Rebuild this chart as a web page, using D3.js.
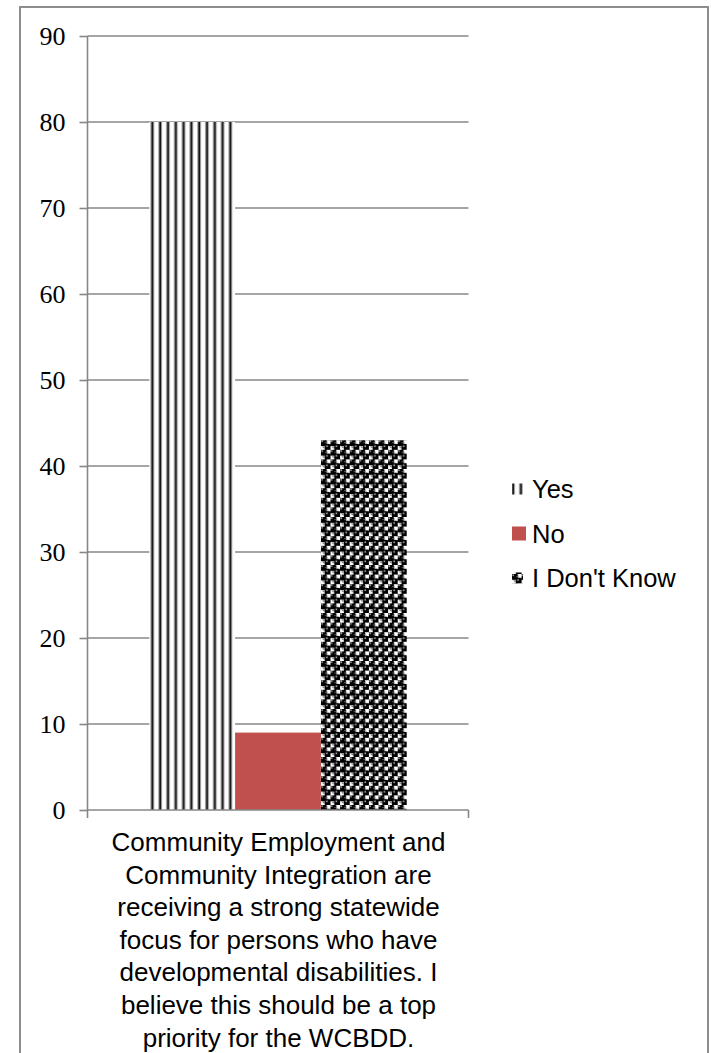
<!DOCTYPE html>
<html>
<head>
<meta charset="utf-8">
<script src="https://cdn.jsdelivr.net/npm/d3@7"></script>
<style>
  html, body { margin: 0; padding: 0; background: #fff; }
  svg { display: block; }
</style>
</head>
<body>
<svg id="chart" width="711" height="1053"></svg>
<script>
// Survey responses for one statement
const categories = ["Community Employment and Community Integration are receiving a strong statewide focus for persons who have developmental disabilities. I believe this should be a top priority for the WCBDD."];
const categoryLines = [
  "Community Employment and",
  "Community Integration are",
  "receiving a strong statewide",
  "focus for persons who have",
  "developmental disabilities. I",
  "believe this should be a top",
  "priority for the WCBDD."
];
const seriesNames = ["Yes", "No", "I Don't Know"];
const seriesValues = [80, 9, 43];
const yTicks = [0, 10, 20, 30, 40, 50, 60, 70, 80, 90];

const svg = d3.select("#chart");
const W = 711, H = 1053;
const plot = { left: 87.5, right: 468.5, top: 36, bottom: 810 };
const gridColor = "#878787";

// Outer chart frame
svg.append("rect")
  .attr("x", 20).attr("y", 7)
  .attr("width", 688).attr("height", H)
  .attr("fill", "none").attr("stroke", "#8d8d8d").attr("stroke-width", 2);

const y = d3.scaleLinear().domain([0, 90]).range([plot.bottom, plot.top]);
const x0 = d3.scaleBand().domain(categories).range([plot.left, plot.right])
  .paddingInner(0).paddingOuter(0.24);
const x1 = d3.scaleBand().domain(seriesNames).range([0, x0.bandwidth()]).padding(0);

// Fill patterns
const defs = svg.append("defs");

function stripePattern(id, offsetX) {
  const p = defs.append("pattern")
    .attr("id", id).attr("patternUnits", "userSpaceOnUse")
    .attr("x", offsetX).attr("y", 0)
    .attr("width", 7.8).attr("height", 10);
  p.append("rect").attr("width", 7.8).attr("height", 10).attr("fill", "#fff");
  p.append("rect").attr("x", 1.2).attr("width", 1.0).attr("height", 10).attr("fill", "#9a9a9a");
  p.append("rect").attr("x", 2.2).attr("width", 2.0).attr("height", 10).attr("fill", "#111");
  p.append("rect").attr("x", 4.2).attr("width", 0.8).attr("height", 10).attr("fill", "#8a8a8a");
}

function spherePattern(id, offsetX, offsetY) {
  const s = 9.6;
  const p = defs.append("pattern")
    .attr("id", id).attr("patternUnits", "userSpaceOnUse")
    .attr("x", offsetX).attr("y", offsetY)
    .attr("width", s).attr("height", s);
  p.append("rect").attr("width", s).attr("height", s).attr("fill", "#fff");
  [[s * 0.25, s * 0.25], [s * 0.75, s * 0.75]].forEach(([cx, cy]) => {
    p.append("circle").attr("cx", cx).attr("cy", cy).attr("r", 3.7).attr("fill", "#000");
    p.append("circle").attr("cx", cx - 1.2).attr("cy", cy - 1.2).attr("r", 0.9).attr("fill", "#aaa");
  });
  // grey corners between spheres
  p.append("rect").attr("x", s * 0.5 - 0.6).attr("y", s * 0.25 - 0.6).attr("width", 1.2).attr("height", 1.2).attr("fill", "#777");
  p.append("rect").attr("x", s * 0.25 - 0.6).attr("y", s * 0.75 - 0.6).attr("width", 1.2).attr("height", 1.2).attr("fill", "#777");
}

const barX = name => x0(categories[0]) + x1(name);
stripePattern("pat-yes", barX("Yes"));
spherePattern("pat-idk", barX("I Don't Know"), y(seriesValues[2]));
stripePattern("pat-yes-legend", 510);
spherePattern("pat-idk-legend", 512, 572);

const fills = {
  "Yes": "url(#pat-yes)",
  "No": "#c0504d",
  "I Don't Know": "url(#pat-idk)"
};
const legendFills = {
  "Yes": "url(#pat-yes-legend)",
  "No": "#c0504d",
  "I Don't Know": "url(#pat-idk-legend)"
};

// Horizontal gridlines
svg.append("g").selectAll("line")
  .data(yTicks.filter(d => d > 0))
  .join("line")
  .attr("x1", plot.left).attr("x2", plot.right)
  .attr("y1", d => y(d)).attr("y2", d => y(d))
  .attr("stroke", gridColor).attr("stroke-width", 1.6);

// Bars
const data = seriesNames.map((name, i) => ({ name, value: seriesValues[i] }));
svg.append("g").selectAll("rect")
  .data(data)
  .join("rect")
  .attr("x", d => barX(d.name))
  .attr("y", d => y(d.value))
  .attr("width", x1.bandwidth())
  .attr("height", d => y(0) - y(d.value))
  .attr("fill", d => fills[d.name]);

// Value axis
const yAxis = d3.axisLeft(y).tickValues(yTicks).tickSize(8).tickPadding(14);
const gy = svg.append("g").attr("transform", `translate(${plot.left},0)`).call(yAxis);
gy.select(".domain").attr("stroke", gridColor).attr("stroke-width", 1.6)
  .attr("d", `M0,${plot.top}V${plot.bottom + 8}`);
gy.selectAll(".tick line").attr("stroke", gridColor).attr("stroke-width", 1.6);
gy.selectAll(".tick text")
  .attr("fill", "#000")
  .style("font-family", "'Liberation Serif', 'Times New Roman', serif")
  .style("font-size", "26px");

// Category axis
svg.append("line")
  .attr("x1", plot.left).attr("x2", plot.right)
  .attr("y1", y(0)).attr("y2", y(0))
  .attr("stroke", gridColor).attr("stroke-width", 1.6);
svg.append("line")
  .attr("x1", plot.right).attr("x2", plot.right)
  .attr("y1", y(0)).attr("y2", y(0) + 8)
  .attr("stroke", gridColor).attr("stroke-width", 1.6);

const catLabel = svg.append("text")
  .attr("x", x0(categories[0]) + x0.bandwidth() / 2 + 0.5)
  .attr("y", 851)
  .attr("text-anchor", "middle")
  .style("font-family", "'Liberation Sans', Arial, sans-serif")
  .style("font-size", "26px")
  .attr("fill", "#000");
catLabel.selectAll("tspan")
  .data(categoryLines)
  .join("tspan")
  .attr("x", x0(categories[0]) + x0.bandwidth() / 2 + 0.5)
  .attr("dy", (d, i) => i === 0 ? 0 : 32.6)
  .text(d => d);

// Legend
const legendY = [489, 533.5, 578];
const lg = svg.append("g").selectAll("g")
  .data(seriesNames)
  .join("g")
  .attr("transform", (d, i) => `translate(0,${legendY[i]})`);
lg.append("rect")
  .attr("x", 512)
  .attr("y", (d, i) => i === 1 ? -7 : -5.5)
  .attr("width", (d, i) => i === 1 ? 14 : 11)
  .attr("height", (d, i) => i === 1 ? 14 : 11)
  .attr("fill", d => legendFills[d]);
lg.append("text")
  .attr("x", 532)
  .attr("y", 0)
  .attr("dy", "0.36em")
  .style("font-family", "'Liberation Sans', Arial, sans-serif")
  .style("font-size", "25.5px")
  .attr("fill", "#000")
  .text(d => d);
</script>
</body>
</html>
